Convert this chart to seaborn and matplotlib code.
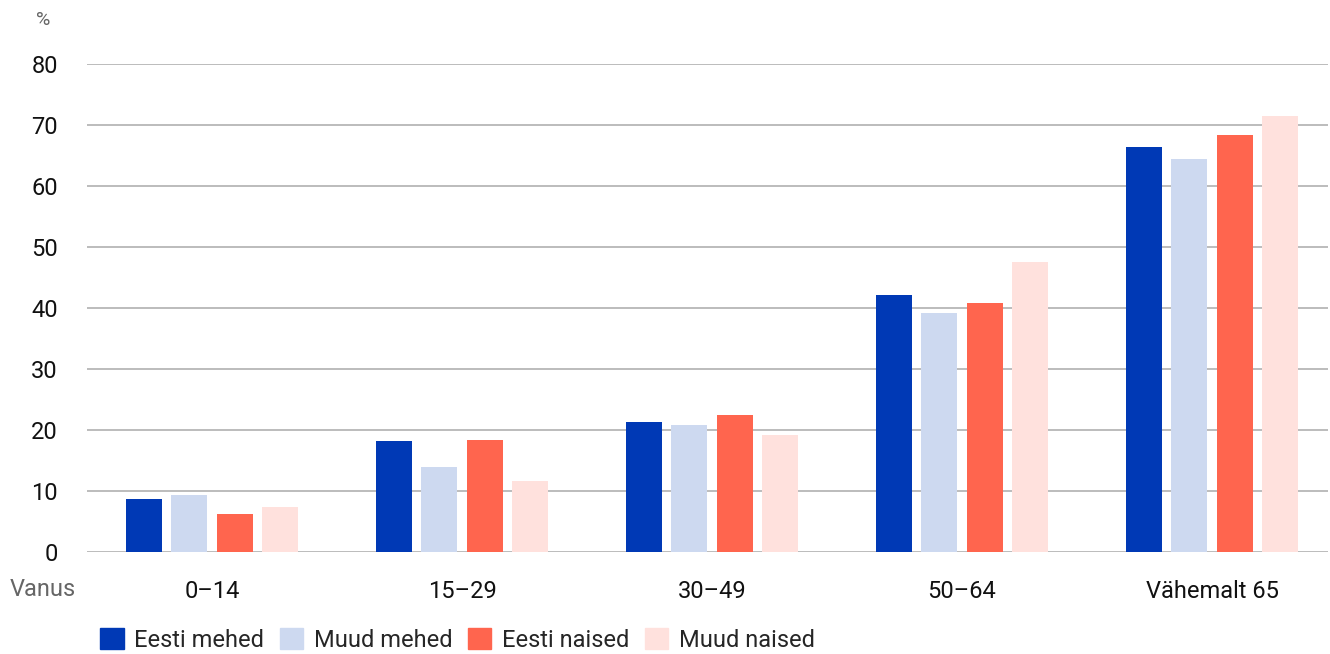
import pandas as pd
import numpy as np
import matplotlib.pyplot as plt
import seaborn as sns

# age groups and shares (%)
vanus = ["0\u201314", "15\u201329", "30\u201349", "50\u201364", "Vähemalt 65"]
eesti_mehed = [8.7, 18.2, 21.3, 42.1, 66.4]
muud_mehed = [9.3, 13.9, 20.8, 39.2, 64.4]
eesti_naised = [6.2, 18.4, 22.5, 40.8, 68.4]
muud_naised = [7.4, 11.6, 19.2, 47.5, 71.5]

series = ["Eesti mehed", "Muud mehed", "Eesti naised", "Muud naised"]
colors = ["#0039b5", "#cdd9f0", "#ff654e", "#ffe1dd"]

df = pd.DataFrame({
    "vanus": vanus * 4,
    "grupp": np.repeat(series, len(vanus)),
    "vaartus": eesti_mehed + muud_mehed + eesti_naised + muud_naised,
})

sns.set_style("white")
plt.rcParams["font.family"] = ["Roboto", "DejaVu Sans"]

fig = plt.figure(figsize=(13.3, 6.54), dpi=100)
ax = fig.add_axes([87 / 1330, 102 / 654, (1328 - 87) / 1330, (552 - 64) / 654])

sns.barplot(data=df, x="vanus", y="vaartus", hue="grupp", hue_order=series,
            palette=colors, width=0.728, gap=0.21, saturation=1, linewidth=0,
            errorbar=None, legend=False, ax=ax, zorder=3)

ax.set_xlim(-0.5, 4.464)
ax.set_ylim(0, 80)
ax.set_yticks(range(0, 81, 10))
ax.yaxis.grid(True, color="#b0b0b0", linewidth=1.2, zorder=0)
ax.set_axisbelow(True)
for s in ax.spines.values():
    s.set_visible(False)
ax.tick_params(axis="both", length=0, labelsize=17, colors="#111111")
ax.tick_params(axis="y", pad=21)
ax.tick_params(axis="x", pad=20)
ax.set_xlabel("")
ax.set_ylabel("")

fig.text(43 / 1330, 1 - 20 / 654, "%", ha="center", va="center",
         fontsize=14, color="#666666")
fig.text(10 / 1330, 1 - 590 / 654, "Vanus", ha="left", va="center",
         fontsize=17, color="#666666")

handles = [plt.Rectangle((0, 0), 1, 1, color=c) for c in colors]
fig.legend(handles, series, loc="center left", bbox_to_anchor=(100 / 1330, 1 - 640 / 654),
           ncol=4, frameon=False, fontsize=17, handlelength=1.0,
           handleheight=1.0, handletextpad=0.45, columnspacing=0.65,
           borderaxespad=0, borderpad=0)

fig.savefig("out.png", dpi=100)
